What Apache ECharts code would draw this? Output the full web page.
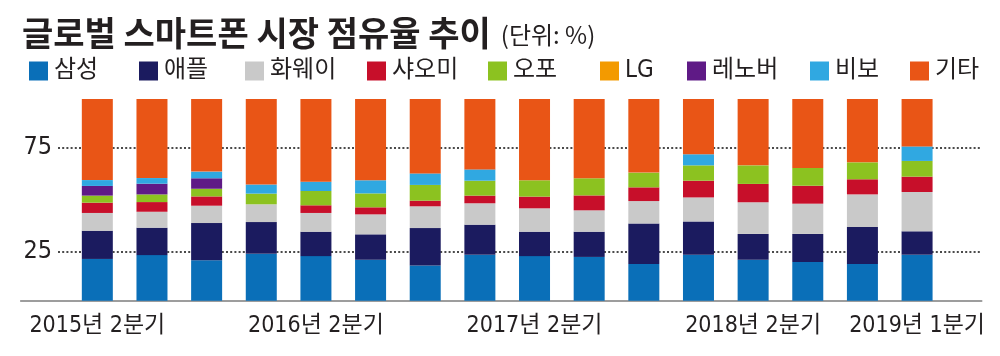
<!DOCTYPE html>
<html>
<head>
<meta charset="utf-8">
<script src="https://cdn.jsdelivr.net/npm/echarts@6/dist/echarts.min.js"></script>
<style>
html,body{margin:0;padding:0;background:#fff;}
#c{width:1000px;height:356px;}
</style>
</head>
<body>
<div id="c"></div>
<script>
const categories = [
  '2015년 2분기','2015년 3분기','2015년 4분기','2016년 1분기',
  '2016년 2분기','2016년 3분기','2016년 4분기','2017년 1분기',
  '2017년 2분기','2017년 3분기','2017년 4분기','2018년 1분기',
  '2018년 2분기','2018년 3분기','2018년 4분기','2019년 1분기'
];
const shownTickLabels = ['2015년 2분기','2016년 2분기','2017년 2분기','2018년 2분기','2019년 1분기'];
const yTickLabels = [25, 75];

const samsung = [20.7,22.6,20.0,23.3,22.1,20.3,17.5,22.8,22.1,21.7,18.2,22.8,20.3,19.2,18.2,22.8];
const apple   = [14.0,13.6,18.5,15.7,12.1,12.6,18.5,14.9,12.1,12.5,20.1,16.5,12.8,13.9,18.3,11.6];
const huawei  = [8.8,7.9,8.6,8.8,9.3,9.9,10.8,10.6,11.6,10.6,11.1,11.9,15.7,15.0,16.2,19.5];
const xiaomi  = [5.1,4.8,4.6,0,3.8,3.5,2.8,3.8,5.8,7.4,6.8,8.3,9.1,8.9,7.5,7.6];
const oppo    = [3.5,3.8,3.8,5.3,7.1,6.9,7.8,7.4,8.1,8.5,7.3,7.6,9.2,8.8,8.4,7.8];
const lg      = [0,0,0,0,0,0,0,0,0,0,0,0,0,0,0,0];
const lenovo  = [4.8,5.3,5.2,0,0,0,0,0,0,0,0,0,0,0,0,0];
const vivo    = [2.9,2.8,3.3,4.5,4.6,6.5,5.7,5.6,0,0,0,5.5,0,0,0,7.2];
const others  = [40.2,39.2,36.0,42.4,41.0,40.3,36.9,34.9,40.3,39.3,36.5,27.4,32.9,34.2,31.4,23.5];

const seriesNames = ['삼성','애플','화웨이','샤오미','오포','LG','레노버','비보','기타'];
const seriesData = [samsung, apple, huawei, xiaomi, oppo, lg, lenovo, vivo, others];
const colors = ['#0a6fb8','#1b1b5f','#c9c9c9','#c70f2a','#8cc220','#f39a00','#5f1a86','#30a8e1','#e95516'];

const legendLeft = [24, 134, 240, 362, 483, 595, 682, 805, 905];
const NUM_FONT = "'Liberation Sans Narrow','DejaVu Sans Condensed','Noto Sans CJK KR',sans-serif";
const KR_FONT = "'Noto Sans CJK KR',sans-serif";
const TXT = '#231f20';

const chart = echarts.init(document.getElementById('c'), null, {renderer:'canvas'});

const legends = seriesNames.map((n, i) => ({
  data: [n],
  left: legendLeft[i],
  top: 54,
  itemWidth: 19,
  itemHeight: 19,
  itemGap: 0,
  icon: 'rect',
  selectedMode: false,
  textStyle: {fontFamily: NUM_FONT, fontSize: 24, color: TXT, padding: [0,0,0,1]}
}));

const option = {
  animation: false,
  color: colors,
  title: {
    text: '{a|글로벌 스마트폰 시장 점유율 추이}{b|(단위: %)}',
    left: 17,
    top: 7,
    textStyle: {
      rich: {
        a: {fontFamily: KR_FONT, fontWeight: 'bold', fontSize: 34, color: TXT, lineHeight: 42},
        b: {fontFamily: KR_FONT, fontWeight: 'normal', fontSize: 24, color: TXT, lineHeight: 42, padding: [3,0,0,10]}
      }
    }
  },
  legend: legends,
  grid: [
    {left: 70, right: 55.6, top: 99, bottom: 55.3},
    {left: 58, right: 18, top: 95.3, bottom: 52.7},
    {left: 20.7, right: 18.3, top: 99, bottom: 55.3}
  ],
  xAxis: [
    {
      type: 'category', gridIndex: 0, data: categories,
      axisLine: {show: false}, axisTick: {show: false},
      axisLabel: {
        interval: 0,
        margin: 14,
        formatter: v => shownTickLabels.includes(v) ? v : '',
        fontFamily: NUM_FONT, fontSize: 23, color: TXT
      }
    },
    {type: 'value', gridIndex: 1, show: false},
    {
      type: 'value', gridIndex: 2, min: 0, max: 1,
      axisLine: {show: true, lineStyle: {color: '#7d7d7d', width: 1.6}},
      axisTick: {show: false}, axisLabel: {show: false}, splitLine: {show: false}
    }
  ],
  yAxis: [
    {type: 'value', gridIndex: 0, min: 0, max: 100, show: false},
    {
      type: 'value', gridIndex: 1, min: 0, max: 100, interval: 25,
      axisLine: {show: false}, axisTick: {show: false},
      axisLabel: {
        margin: 6,
        formatter: v => yTickLabels.includes(v) ? String(v) : '',
        fontFamily: NUM_FONT, fontSize: 25, color: TXT
      },
      splitLine: {
        show: true,
        lineStyle: {color: ['rgba(0,0,0,0)','#4a4a4a','rgba(0,0,0,0)','#4a4a4a','rgba(0,0,0,0)'], width: 2, type: [2, 2.2]}
      }
    },
    {type: 'value', gridIndex: 2, show: false, min: 0, max: 1}
  ],
  series: seriesNames.map((n, i) => ({
    name: n,
    type: 'bar',
    stack: 'share',
    xAxisIndex: 0,
    yAxisIndex: 0,
    barWidth: 31,
    data: seriesData[i],
    itemStyle: {color: colors[i]},
    z: 5
  }))
};
chart.setOption(option);
</script>
</body>
</html>
